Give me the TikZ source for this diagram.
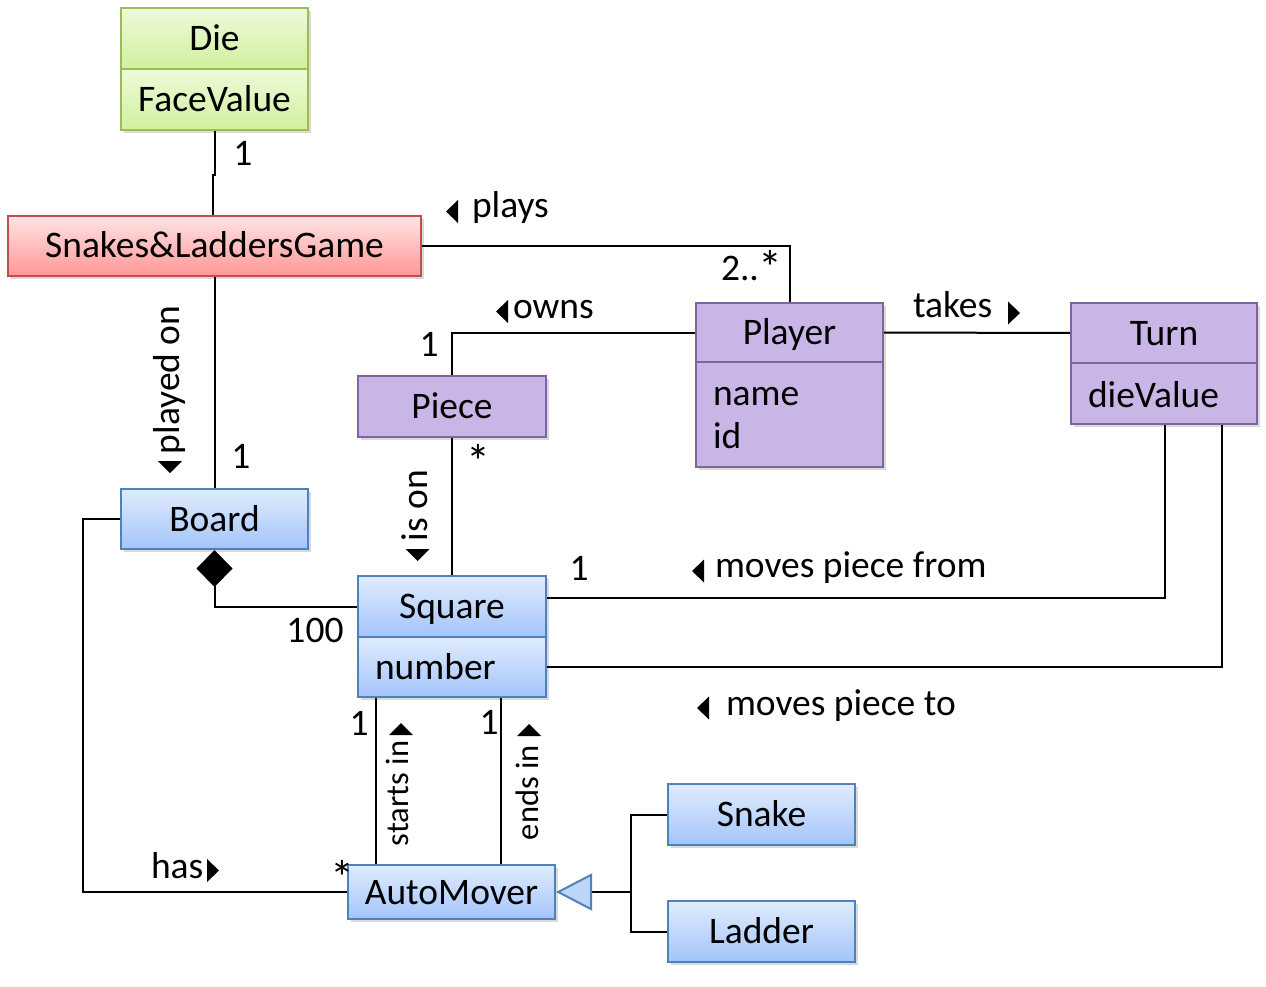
\documentclass[tikz,border=0pt]{standalone}
\usepackage{fontspec}
\setmainfont{Carlito}
\usetikzlibrary{arrows.meta,shadows,calc}
\definecolor{grnB}{RGB}{155,187,89}
\definecolor{grnT}{RGB}{238,250,218}
\definecolor{grnM}{RGB}{208,240,158}
\definecolor{redB}{RGB}{192,80,77}
\definecolor{redT}{RGB}{255,228,228}
\definecolor{redM}{RGB}{255,150,150}
\definecolor{purB}{RGB}{128,100,162}
\definecolor{purF}{RGB}{201,182,230}
\definecolor{bluB}{RGB}{79,129,189}
\definecolor{bluT}{RGB}{224,236,253}
\definecolor{bluM}{RGB}{163,196,250}
\definecolor{bluTri}{RGB}{190,213,250}
\newcommand{\bigast}{\raisebox{-4pt}{\fontsize{48}{50}\selectfont *}}
\tikzset{
  ltri/.pic={\fill (0,-11.5) -- (-12,0) -- (0,11.5) -- cycle;},
  rtri/.pic={\fill (0,-11.5) -- (12,0) -- (0,11.5) -- cycle;},
  dtri/.pic={\fill (-12,0) -- (12,0) -- (0,12) -- cycle;},
  utri/.pic={\fill (-12,0) -- (12,0) -- (0,-12) -- cycle;}
}
\begin{document}
\begin{tikzpicture}[x=1pt,y=-1pt,
  font=\fontsize{37.5}{45}\selectfont,
  line width=2pt,
  box/.style={rectangle, line width=2pt, inner sep=0pt, text height=24pt, text depth=0pt,
    drop shadow={shadow xshift=2.5pt, shadow yshift=-3pt, opacity=0.3}},
  grnbox/.style={box, draw=grnB, top color=grnT, bottom color=grnM},
  redbox/.style={box, draw=redB, top color=redT, bottom color=redM},
  purbox/.style={box, draw=purB, fill=purF},
  blubox/.style={box, draw=bluB, top color=bluT, bottom color=bluM},
  lbl/.style={inner sep=0pt},
  small/.style={font=\fontsize{32.5}{40}\selectfont}
]
\useasboundingbox (0,0) rectangle (1266,987);

% classes
\node[grnbox, minimum width=187pt, minimum height=61pt] (die) at (214.5,38.5) {Die};
\node[grnbox, minimum width=187pt, minimum height=61pt] (dieattr) at (214.5,99.5) {FaceValue};
\node[redbox, minimum width=413pt, minimum height=60pt] (game) at (214.5,246) {Snakes\&LaddersGame};

\node[purbox, minimum width=187pt, minimum height=59pt] (player) at (789.5,332.5) {Player};
\node[purbox, minimum width=187pt, minimum height=105pt] (playerattr) at (789.5,414.5) {};
\node[lbl, anchor=base west] (pname) at (712,405) {name};
\node[lbl, anchor=base west] (pid) at (712,448) {id};

\node[purbox, minimum width=188pt, minimum height=61pt] (piece) at (452,406.5) {Piece};

\node[purbox, minimum width=186pt, minimum height=60pt] (turn) at (1164,333) {Turn};
\node[purbox, minimum width=186pt, minimum height=61pt] (turnattr) at (1164,393.5) {};
\node[lbl, anchor=base west] (dv) at (1087,407) {dieValue};

\node[blubox, minimum width=187pt, minimum height=60pt] (board) at (214.5,519) {Board};
\node[blubox, minimum width=188pt, minimum height=61pt] (square) at (452,606.5) {Square};
\node[blubox, minimum width=188pt, minimum height=60pt] (squareattr) at (452,667) {};
\node[lbl, anchor=base west] (num) at (374,679) {number};
\node[blubox, minimum width=207pt, minimum height=54pt] (automover) at (451.5,892) {AutoMover};
\node[blubox, minimum width=187pt, minimum height=61pt] (snake) at (761.5,814.5) {Snake};
\node[blubox, minimum width=187pt, minimum height=61pt] (ladder) at (761.5,931.5) {Ladder};

% connectors
\draw ([xshift=0.5pt]dieattr.south) -- ++(0,44) -| ([xshift=-1.5pt]game.north);
\draw (game.east) -| (player.north);
\draw (player.west) -| (piece.north);
\draw (player.east) -- (turn.west);
\draw (game.south) -- (board.north);
\draw (piece.south) -- (square.north);
\draw ([xshift=1pt]turnattr.south) |- ([yshift=-23pt]square.north east);
\draw ([xshift=58pt]turnattr.south) |- (squareattr.east);
\draw[{Diamond[length=37pt,width=36pt]}-] (board.south) |- (square.west);
\draw ([xshift=19pt]squareattr.south west) -- ([xshift=29pt]automover.north west);
\draw ([xshift=144pt]squareattr.south west) -- ([xshift=154pt]automover.north west);
\draw (board.west) -- ++(-37,0) |- (automover.west);
\coordinate (gj) at ($(automover.east)+(75,0)$);
\draw[{Triangle[length=36pt,width=37pt,fill=bluTri,color=bluB]}-] (automover.east) -- (gj);
\draw (snake.west) -| (gj) |- (ladder.west);

% labels
\node[lbl] (m1) at (243,153) {1};
\node[lbl, anchor=base west] (plays) at (471,218) {plays};
\pic at (458,211.5) {ltri};
\node[lbl, anchor=base west] (m2) at (720,280) {2..\bigast};
\node[lbl, anchor=base west] (owns) at (512,318) {owns};
\pic at (508,311.5) {ltri};
\node[lbl] (m3) at (429,344) {1};
\node[lbl, anchor=base west] (takes) at (912,317) {takes};
\pic at (1008,313) {rtri};
\node[lbl, anchor=base west, rotate=90] (playedon) at (179,455) {played on};
\pic at (170,461) {dtri};
\node[lbl] (m4) at (241,456) {1};
\node[lbl, anchor=base] (m5) at (478,474) {\bigast};
\node[lbl, anchor=base west, rotate=90] (ison) at (427,542) {is on};
\pic at (417.5,549) {dtri};
\node[lbl] (m6) at (579,568) {1};
\node[lbl, anchor=base west] (mfrom) at (714,577) {moves piece from};
\pic at (704,571) {ltri};
\node[lbl] (m7) at (315,630) {100};
\node[lbl, anchor=base west] (mto) at (725,715) {moves piece to};
\pic at (709,708) {ltri};
\node[lbl] (m8) at (359,723) {1};
\node[lbl] (m9) at (489,722) {1};
\node[lbl, small, anchor=base west, rotate=90] (startsin) at (408,847) {starts in};
\pic at (401,735) {utri};
\node[lbl, small, anchor=base west, rotate=90] (endsin) at (538,841) {ends in};
\pic at (529,736) {utri};
\node[lbl, anchor=base west] (has) at (150,878) {has};
\pic at (207,870.5) {rtri};
\node[lbl, anchor=base] (m10) at (342,890) {\bigast};
\end{tikzpicture}
\end{document}
